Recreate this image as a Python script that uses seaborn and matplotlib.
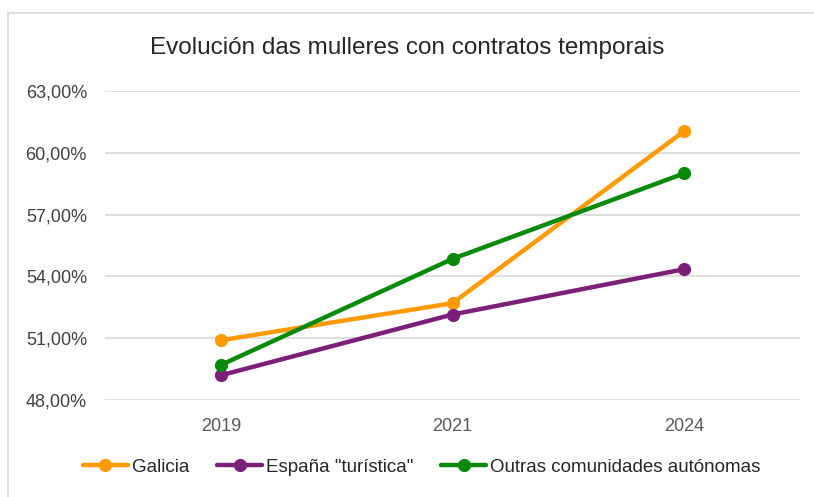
import pandas as pd
import matplotlib.pyplot as plt
import seaborn as sns
from matplotlib.patches import Rectangle
from matplotlib.ticker import FuncFormatter

# datos (porcentaxe)
anos = ['2019', '2021', '2024']
galicia = [50.9, 52.7, 61.05]
espana_turistica = [49.2, 52.15, 54.35]
outras_ccaa = [49.7, 54.85, 59.0]
series = ['Galicia', 'España "turística"', 'Outras comunidades autónomas']
cores = ['#FF9A00', '#7B1F78', '#0A8A0A']

df = pd.DataFrame({
    'ano': anos * 3,
    'valor': galicia + espana_turistica + outras_ccaa,
    'serie': [series[0]] * 3 + [series[1]] * 3 + [series[2]] * 3,
})

sns.set_style('white')
plt.rcParams['font.family'] = ['Liberation Sans', 'DejaVu Sans']

fig = plt.figure(figsize=(8.14, 4.97), dpi=100)
ax = fig.add_axes([105 / 814, 1 - 400 / 497, 695 / 814, 309 / 497])

# marco do gráfico
fig.patches.append(Rectangle((8 / 814, -0.05), 1.1, 1 - 13 / 497 + 0.05,
                             transform=fig.transFigure, fill=False,
                             edgecolor='#D9D9D9', linewidth=1.2))

sns.lineplot(data=df, x='ano', y='valor', hue='serie', palette=cores,
             marker='o', markersize=9.5, markeredgewidth=0, linewidth=3.2,
             sort=False, ax=ax, legend=True)

ax.set_xlim(-0.5, 2.5)
ax.set_ylim(48, 63)
ax.set_yticks([48, 51, 54, 57, 60, 63])
ax.yaxis.set_major_formatter(FuncFormatter(lambda v, p: f'{v:.2f}%'.replace('.', ',')))
ax.grid(axis='y', color='#D9D9D9', linewidth=1.2)
ax.grid(axis='x', visible=False)
for s in ax.spines.values():
    s.set_visible(False)
ax.tick_params(axis='both', length=0, labelsize=13, colors='#595959')
ax.tick_params(axis='x', pad=13)
ax.tick_params(axis='y', pad=13)
for lbl in ax.get_yticklabels():
    lbl.set_color('#404040')
ax.set_xlabel('')
ax.set_ylabel('')

fig.text(0.5, 1 - 48 / 497, 'Evolución das mulleres con contratos temporais',
         ha='center', va='center', fontsize=17.5, color='#262626')

handles, labels = ax.get_legend_handles_labels()
ax.get_legend().remove()
fig.legend(handles, labels, loc='center', bbox_to_anchor=(0.518, 1 - 467 / 497),
           ncol=3, frameon=False, fontsize=13.5, handlelength=2.4,
           handletextpad=0.2, columnspacing=1.5, labelcolor='#262626')

fig.savefig('out.png', dpi=100)
